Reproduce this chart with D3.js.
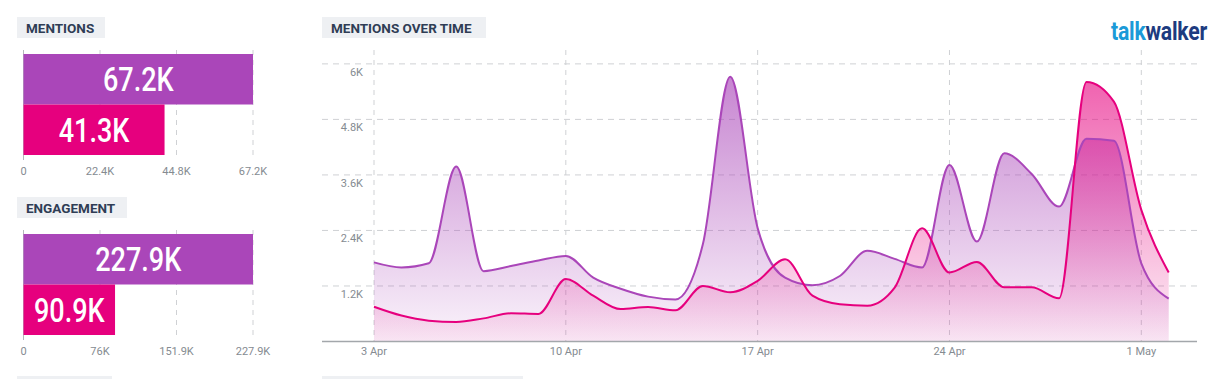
<!DOCTYPE html>
<html>
<head>
<meta charset="utf-8">
<script src="https://cdn.jsdelivr.net/npm/d3@7"></script>
<style>
  body { margin: 0; background: #fff; }
  svg { display: block; font-family: Roboto, "Open Sans", sans-serif; }
</style>
</head>
<body>
<svg id="chart" width="1213" height="379"></svg>
<script>
// ---------- data ----------
var seriesNames = ["brand A", "brand B"];
var seriesColors = ["#aa46b9", "#e6007e"];

var mentionTotals = [67200, 41300];
var mentionLabels = ["67.2K", "41.3K"];
var mentionTicks = [0, 22400, 44800, 67200];
var mentionTickLabels = ["0", "22.4K", "44.8K", "67.2K"];

var engagementTotals = [227900, 90900];
var engagementLabels = ["227.9K", "90.9K"];
var engagementTicks = [0, 75967, 151933, 227900];
var engagementTickLabels = ["0", "76K", "151.9K", "227.9K"];

// one value per day, 3 Apr .. 2 May
var startDay = "2019-04-03";
var purpleDaily = [1710, 1600, 1690, 3780, 1520, 1630, 1750, 1850,
                   1380, 1140, 970, 910, 2100, 5720, 2450,
                   1380, 1215, 1415, 1960, 1785, 1600, 3815, 2160,
                   4070, 3620, 2915, 4380, 4340, 1690, 925];
var pinkDaily = [750, 560, 450, 420, 500, 610, 595, 1350,
                 990, 700, 745, 675, 1200, 1065, 1310,
                 1775, 990, 805, 775, 1165, 2445, 1490, 1720,
                 1170, 1170, 935, 5610, 5185, 2845, 1490];

var yTicks = [1200, 2400, 3600, 4800, 6000];
var yTickLabels = ["1.2K", "2.4K", "3.6K", "4.8K", "6K"];
var xTickDates = ["2019-04-03", "2019-04-10", "2019-04-17", "2019-04-24", "2019-05-01"];
var xTickLabels = ["3 Apr", "10 Apr", "17 Apr", "24 Apr", "1 May"];

// ---------- helpers ----------
var svg = d3.select("#chart");
var gridColor = "#cfd1d4";
var labelColor = "#858b91";

var drawHeader = function (x, y, w, text)
{
	svg.append("rect")
		.attr("x", x).attr("y", y)
		.attr("width", w).attr("height", 21)
		.attr("fill", "#eef0f3");
	svg.append("text")
		.attr("x", x + 9).attr("y", y + 15.5)
		.attr("fill", "#2f3d55")
		.attr("font-size", 13.5)
		.attr("font-weight", 700)
		.text(text);
};

//----------bar panels-------------
var drawBars = function (top, totals, labels, ticks, tickLabels)
{
	var xScale = d3.scaleLinear()
		.domain([0, d3.max(totals)])
		.range([23.5, 253]);
	var yScale = d3.scaleBand()
		.domain(d3.range(totals.length))
		.range([top + 4, top + 105])
		.padding(0);

	var g = svg.append("g");
	// grid
	g.selectAll(".vgrid")
		.data(ticks)
		.enter()
		.append("line")
		.attr("x1", function (t) { return xScale(t); })
		.attr("x2", function (t) { return xScale(t); })
		.attr("y1", top)
		.attr("y2", top + 110)
		.attr("stroke", function (t, i) { return i == 0 ? "#b5b8bc" : gridColor; })
		.attr("stroke-width", 1)
		.attr("stroke-dasharray", function (t, i) { return i == 0 ? null : "5,5"; });

	g.selectAll(".bar")
		.data(totals)
		.enter()
		.append("rect")
		.attr("x", xScale(0))
		.attr("y", function (d, i) { return yScale(i); })
		.attr("width", function (d) { return xScale(d) - xScale(0); })
		.attr("height", yScale.bandwidth())
		.attr("fill", function (d, i) { return seriesColors[i]; });

	// condensed white value labels
	g.selectAll(".barlabel")
		.data(totals)
		.enter()
		.append("text")
		.attr("transform", function (d, i)
		{
			var cx = (xScale(0) + xScale(d)) / 2;
			var cy = yScale(i) + yScale.bandwidth() / 2 + 12;
			return "translate(" + cx + "," + cy + ") scale(0.82,1)";
		})
		.attr("text-anchor", "middle")
		.attr("fill", "#fff")
		.attr("font-size", 33)
		.attr("font-weight", 500)
		.text(function (d, i) { return labels[i]; });

	g.selectAll(".ticklabel")
		.data(ticks)
		.enter()
		.append("text")
		.attr("x", function (t) { return xScale(t); })
		.attr("y", top + 125)
		.attr("text-anchor", "middle")
		.attr("fill", labelColor)
		.attr("font-size", 11)
		.text(function (t, i) { return tickLabels[i]; });
};

drawHeader(17, 17, 88, "MENTIONS");
drawBars(50, mentionTotals, mentionLabels, mentionTicks, mentionTickLabels);
drawHeader(17, 197, 110, "ENGAGEMENT");
drawBars(230, engagementTotals, engagementLabels, engagementTicks, engagementTickLabels);

//----------mentions over time-------------
drawHeader(322, 17, 164, "MENTIONS OVER TIME");

var parse = d3.utcParse("%Y-%m-%d");
var day0 = parse(startDay);
var dates = purpleDaily.map(function (v, i) { return d3.utcDay.offset(day0, i); });

var xScale = d3.scaleUtc()
	.domain([parse(xTickDates[0]), parse(xTickDates[4])])
	.range([374, 1141.3]);
var yScale = d3.scaleLinear()
	.domain([0, 6300])
	.range([341.5, 50]);

var plot = svg.append("g");

plot.selectAll(".hgrid")
	.data(yTicks)
	.enter()
	.append("line")
	.attr("x1", 322).attr("x2", 1197)
	.attr("y1", function (t) { return yScale(t); })
	.attr("y2", function (t) { return yScale(t); })
	.attr("stroke", gridColor)
	.attr("stroke-dasharray", "6,5");

plot.selectAll(".vgrid")
	.data(xTickDates)
	.enter()
	.append("line")
	.attr("x1", function (d) { return xScale(parse(d)); })
	.attr("x2", function (d) { return xScale(parse(d)); })
	.attr("y1", 50).attr("y2", 341)
	.attr("stroke", gridColor)
	.attr("stroke-dasharray", "5,5");

plot.selectAll(".ylabel")
	.data(yTicks)
	.enter()
	.append("text")
	.attr("x", 363)
	.attr("y", function (t) { return yScale(t) + 12; })
	.attr("text-anchor", "end")
	.attr("fill", labelColor)
	.attr("font-size", 11)
	.text(function (t, i) { return yTickLabels[i]; });

plot.selectAll(".xlabel")
	.data(xTickDates)
	.enter()
	.append("text")
	.attr("x", function (d) { return xScale(parse(d)); })
	.attr("y", 355)
	.attr("text-anchor", "middle")
	.attr("fill", labelColor)
	.attr("font-size", 11)
	.text(function (d, i) { return xTickLabels[i]; });

// gradients
var defs = svg.append("defs");
seriesColors.forEach(function (c, i)
{
	var grad = defs.append("linearGradient")
		.attr("id", "grad" + i)
		.attr("gradientUnits", "userSpaceOnUse")
		.attr("x1", 0).attr("x2", 0)
		.attr("y1", yScale(6300)).attr("y2", yScale(0));
	grad.append("stop").attr("offset", 0).attr("stop-color", c).attr("stop-opacity", i == 0 ? 0.72 : 0.68);
	grad.append("stop").attr("offset", 1).attr("stop-color", c).attr("stop-opacity", 0.06);
});

var area = d3.area()
	.x(function (d, i) { return xScale(dates[i]); })
	.y0(yScale(0))
	.y1(function (d) { return yScale(d); })
	.curve(d3.curveMonotoneX);
var line = d3.line()
	.x(function (d, i) { return xScale(dates[i]); })
	.y(function (d) { return yScale(d); })
	.curve(d3.curveMonotoneX);

var allSeries = [purpleDaily, pinkDaily];
allSeries.forEach(function (s, i)
{
	plot.append("path")
		.attr("d", area(s))
		.attr("fill", "url(#grad" + i + ")");
});
allSeries.forEach(function (s, i)
{
	plot.append("path")
		.attr("d", line(s))
		.attr("fill", "none")
		.attr("stroke", seriesColors[i])
		.attr("stroke-width", 2);
});

// x axis line
plot.append("line")
	.attr("x1", 322).attr("x2", 1197)
	.attr("y1", 341.5).attr("y2", 341.5)
	.attr("stroke", "#a3a7ab")
	.attr("stroke-width", 1.5);

//----------logo-------------
var logo = svg.append("text")
	.attr("font-weight", 700)
	.attr("font-size", 26)
	.attr("letter-spacing", -0.3);
logo.append("tspan").attr("fill", "#1b9ad8").text("talk");
logo.append("tspan").attr("fill", "#1d3b80").text("walker");
var logoWidth = logo.node().getComputedTextLength();
logo.attr("transform", "translate(1111,40) scale(" + (96 / logoWidth) + ",1)");

// cut-off headers of the next row
svg.append("rect").attr("x", 17).attr("y", 376).attr("width", 95).attr("height", 6).attr("fill", "#eef0f3");
svg.append("rect").attr("x", 322).attr("y", 376).attr("width", 201).attr("height", 6).attr("fill", "#eef0f3");
</script>
</body>
</html>
